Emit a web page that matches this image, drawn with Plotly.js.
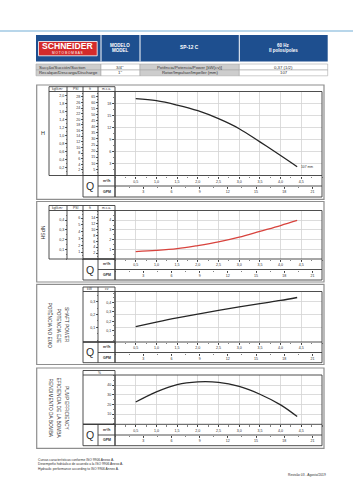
<!DOCTYPE html>
<html><head><meta charset="utf-8">
<script src="https://cdn.plot.ly/plotly-3.0.1.min.js"></script>
<style>html,body{margin:0;padding:0;background:#fff;}#chart{width:353px;height:500px;}</style>
</head><body><div id="chart"></div>
<script>
// ---------- data ----------
const flowM3h = [0.5, 1.0, 1.5, 2.0, 2.5, 3.0, 3.5, 4.0, 4.4];
const headM = [19.2, 18.7, 17.6, 16.2, 14.2, 11.7, 8.4, 5.0, 2.2];
const npshM = [0.77, 0.88, 1.06, 1.38, 1.76, 2.25, 2.85, 3.45, 3.97];
const powerKW = [0.105, 0.140, 0.173, 0.203, 0.232, 0.259, 0.285, 0.310, 0.333];
const efficiencyPct = [22.5, 33.0, 40.5, 43.3, 42.8, 38.5, 30.5, 19.5, 7.5];
const curveLabel = '107 mm';

const m3hTicks = [0.5, 1.0, 1.5, 2.0, 2.5, 3.0, 3.5, 4.0, 4.5];
const gpmTicks = [3, 6, 9, 12, 15, 18, 21];
const headMcaTicks = [3, 6, 9, 12, 15, 18];
const headFtTicks = [5, 10, 15, 20, 25, 30, 35, 40, 45, 50, 55, 60, 65];
const headPsiTicks = [2, 4, 6, 8, 10, 12, 14, 16, 18, 20, 22, 24, 26, 28];
const headKgfTicks = [0.2, 0.4, 0.6, 0.8, 1.0, 1.2, 1.4, 1.6, 1.8, 2.0];
const npshMcaTicks = [1, 2, 3, 4];
const npshFtTicks = [2, 4, 6, 8, 10, 12, 14];
const npshPsiTicks = [1, 2, 3, 4, 5, 6];
const npshKgfTicks = [0.1, 0.2, 0.3, 0.4];
const powerKwTicks = [0.1, 0.2, 0.3];
const powerCvTicks = [0.1, 0.2, 0.3, 0.4];
const effTicks = [10, 20, 30, 40];

// ---------- geometry helpers ----------
const W = 353, H = 500;
const X = v => v / W;
const Y = v => 1 - v / H;
const FONT = 'Liberation Sans, Arial, sans-serif';
const INK = '#2e2e2e';
const GRID = '#d3d3d3';
const FT_PER_M = 3.28084, PSI_PER_M = 1.42233, KGF_PER_M = 0.1, CV_PER_KW = 1.35962, GPM_PER_M3H = 4.40287;
const PL = 115, PR = 322;
const QR = [0, 5];

function ax(extra) {
  return Object.assign({
    showgrid: false, zeroline: false, showline: false, ticks: 'outside', ticklen: 2, tickwidth: 0.8,
    tickcolor: INK, tickfont: {size: 3.6, color: INK, family: FONT}, fixedrange: true, tickmode: 'array'
  }, extra);
}
function minor(d) { return {ticks: 'outside', ticklen: 1.2, tickwidth: 0.6, tickcolor: INK, tickmode: 'linear', tick0: 0, dtick: d, showgrid: false}; }

const panels = [
  {top: 91.5, bot: 175.5, gpm: 186, qb: 197, oT: 85, oB: 199.3, cT: 86.7, cL: 49, divs: [67, 83, 98]},
  {top: 210.5, bot: 259, gpm: 269.5, qb: 280, oT: 201.5, oB: 282, cT: 205.5, cL: 49, divs: [67, 83, 98]},
  {top: 291.5, bot: 342, gpm: 352.5, qb: 362.7, oT: 284.3, oB: 364.5, cT: 287, cL: 83, divs: [98]},
  {top: 375, bot: 424.3, gpm: 435, qb: 445.7, oT: 368, oB: 448.3, cT: 370.5, cL: 83, divs: []}
];
const dom = p => [Y(p.bot), Y(p.top)];
const xdom = [X(PL), X(PR)];

const layout = {
  width: W, height: H, margin: {l: 0, r: 0, t: 0, b: 0},
  paper_bgcolor: '#fff', plot_bgcolor: 'rgba(0,0,0,0)', showlegend: false,
  separators: ',.', font: {family: FONT, color: INK}, shapes: [], annotations: []
};

// x axes (m3/h + GPM) for each panel
const mainY = ['y', 'y5', 'y9', 'y11'];
panels.forEach((p, i) => {
  const xa = 2 * i + 1, xg = 2 * i + 2;
  layout['xaxis' + (xa === 1 ? '' : xa)] = ax({
    domain: xdom, anchor: mainY[i], range: QR, tickvals: m3hTicks, tickformat: '.1f',
    showgrid: true, gridcolor: GRID, gridwidth: 0.8, minor: minor(0.25)
  });
  layout['xaxis' + xg] = ax({
    domain: xdom, overlaying: 'x' + (xa === 1 ? '' : xa), anchor: 'free', position: Y(p.gpm), side: 'bottom',
    range: [QR[0] * GPM_PER_M3H, QR[1] * GPM_PER_M3H], tickvals: gpmTicks, minor: minor(1.5)
  });
});

// y axes
const hR = [0, 21], nR = [0, 5], pR = [-0.015, 0.38], eR = [-0.5, 50.3];
function yMain(p, range, vals, fmt, mnr) {
  return ax({domain: dom(p), range: range, tickvals: vals, tickformat: fmt, showgrid: true, gridcolor: GRID, gridwidth: 0.8, minor: minor(mnr)});
}
function yFree(p, over, pos, range, vals, fmt, mnr) {
  return ax({domain: dom(p), overlaying: over, anchor: 'free', position: X(pos), side: 'left', range: range, tickvals: vals, tickformat: fmt, minor: minor(mnr)});
}
layout.yaxis = Object.assign(yMain(panels[0], hR, headMcaTicks, 'd', 1.5), {anchor: 'x'});
layout.yaxis2 = yFree(panels[0], 'y', 98, hR.map(v => v * FT_PER_M), headFtTicks, 'd', 2.5);
layout.yaxis3 = yFree(panels[0], 'y', 83, hR.map(v => v * PSI_PER_M), headPsiTicks, 'd', 1);
layout.yaxis4 = yFree(panels[0], 'y', 67, hR.map(v => v * KGF_PER_M), headKgfTicks, '.1f', 0.1);
layout.yaxis5 = Object.assign(yMain(panels[1], nR, npshMcaTicks, 'd', 0.5), {anchor: 'x3'});
layout.yaxis6 = yFree(panels[1], 'y5', 98, nR.map(v => v * FT_PER_M), npshFtTicks, 'd', 1);
layout.yaxis7 = yFree(panels[1], 'y5', 83, nR.map(v => v * PSI_PER_M), npshPsiTicks, 'd', 0.5);
layout.yaxis8 = yFree(panels[1], 'y5', 67, nR.map(v => v * KGF_PER_M), npshKgfTicks, '.1f', 0.05);
layout.yaxis9 = Object.assign(yMain(panels[2], pR, powerCvTicks, '.1f', 0.05), {anchor: 'x5'});
layout.yaxis10 = yFree(panels[2], 'y9', 98, pR, powerKwTicks, '.1f', 0.05);
layout.yaxis9.range = pR.map(v => v * CV_PER_KW);
layout.yaxis9.showgrid = false;
layout.yaxis10.showgrid = true; layout.yaxis10.gridcolor = GRID; layout.yaxis10.gridwidth = 0.8;
layout.yaxis11 = Object.assign(yMain(panels[3], eR, effTicks, 'd', 5), {anchor: 'x7'});

// ---------- traces ----------
const dark = '#262626';
const traces = [
  {x: flowM3h, y: headM, xaxis: 'x', yaxis: 'y', mode: 'lines', line: {color: dark, width: 1.3, shape: 'spline'}, hoverinfo: 'skip'},
  {x: flowM3h, y: npshM, xaxis: 'x3', yaxis: 'y5', mode: 'lines', line: {color: '#d8433d', width: 1.3, shape: 'spline'}, hoverinfo: 'skip'},
  {x: flowM3h, y: powerKW, xaxis: 'x5', yaxis: 'y10', mode: 'lines', line: {color: dark, width: 1.3, shape: 'spline'}, hoverinfo: 'skip'},
  {x: flowM3h, y: efficiencyPct, xaxis: 'x7', yaxis: 'y11', mode: 'lines', line: {color: dark, width: 1.3, shape: 'spline'}, hoverinfo: 'skip'}
];
[['x', 'y2'], ['x', 'y3'], ['x', 'y4'], ['x2', 'y'], ['x3', 'y6'], ['x3', 'y7'], ['x3', 'y8'], ['x4', 'y5'],
 ['x5', 'y9'], ['x6', 'y10'], ['x8', 'y11']].forEach(([xa, ya]) => {
  traces.push({x: [null], y: [null], xaxis: xa, yaxis: ya, mode: 'lines', line: {color: 'rgba(0,0,0,0)', width: 0}, hoverinfo: 'skip'});
});

// ---------- shapes ----------
const S = layout.shapes, A = layout.annotations;
function rect(x0, y0, x1, y1, lc, lw, fill) {
  S.push({type: 'rect', xref: 'paper', yref: 'paper', x0: X(x0), x1: X(x1), y0: Y(y1), y1: Y(y0),
    line: {color: lc || 'rgba(0,0,0,0)', width: lw || 0}, fillcolor: fill || 'rgba(0,0,0,0)'});
}
function ln(x0, y0, x1, y1, lc, lw) {
  S.push({type: 'line', xref: 'paper', yref: 'paper', x0: X(x0), x1: X(x1), y0: Y(y0), y1: Y(y1), line: {color: lc, width: lw}});
}
function txt(x, y, t, size, opt) {
  A.push(Object.assign({xref: 'paper', yref: 'paper', x: X(x), y: Y(y), text: t, showarrow: false,
    xanchor: 'center', yanchor: 'middle', font: {size: size, color: INK, family: FONT}, borderpad: 0}, opt || {}));
}

// top rule
ln(0, 31, 353, 31, '#b8d6ea', 2);
// header bar
const BLUE = '#1e4f8f';
rect(36, 35, 327.7, 61.5, null, 0, BLUE);
[101, 140, 239.3].forEach(x => ln(x, 35, x, 61.5, '#ffffff', 1));
rect(38.5, 41.5, 97.2, 55.8, '#ffffff', 0.8, '#d42b2b');
txt(67.8, 46.2, '<b>SCHNEIDER</b>', 8.6, {font: {size: 8.6, color: '#fff', family: FONT}});
txt(67.8, 52.6, 'M O T O B O M B A S', 3.2, {font: {size: 3.2, color: '#fff', family: FONT}});
const wf = s => ({font: {size: s, color: '#fff', family: FONT}});
txt(120.5, 45.2, '<b>MODELO</b>', 4.5, wf(4.5));
txt(120.5, 50.4, '<b>MODEL</b>', 4.5, wf(4.5));
txt(189.6, 47.8, '<b>SP-12 C</b>', 4.8, wf(4.8));
txt(283.5, 45.2, '<b>60 Hz</b>', 4.5, wf(4.5));
txt(283.5, 50.4, '<b>II polos/poles</b>', 4.5, wf(4.5));
// spec rows
const GRAYC = '#cdcdcd', BORD = '#a8a8a8';
[[64, 70], [70, 75.8]].forEach(([a, b]) => {
  rect(36, a, 101, b, BORD, 0.6, GRAYC);
  rect(101, a, 140, b, BORD, 0.6, '#fff');
  rect(140, a, 239.3, b, BORD, 0.6, GRAYC);
  rect(239.3, a, 327.7, b, BORD, 0.6, '#fff');
});
txt(37.5, 67, 'Sucção/Succión/Suction', 4.3, {xanchor: 'left'});
txt(120.5, 67, '3/4"', 4.3);
txt(189.6, 67, 'Potência/Potencia/Power [kW(cv)]', 4.3);
txt(283.5, 67, '0,37 (1/2)', 4.3);
txt(37.5, 72.9, 'Recalque/Descarga/Discharge', 4.3, {xanchor: 'left'});
txt(120.5, 72.9, '1"', 4.3);
txt(189.6, 72.9, 'Rotor/Impulsor/Impeller (mm)', 4.3);
txt(283.5, 72.9, '107', 4.3);

// panels
const FRAME = '#3a3a3a';
const colHeads = [
  [['kgf/cm²', 58], ['PSI', 75], ['ft', 90.5], ['m.c.a.', 106.5]],
  [['kgf/cm²', 58], ['PSI', 75], ['ft', 90.5], ['m.c.a.', 106.5]],
  [['kW', 90.5], ['cv', 106.5]],
  [['%', 99]]
];
panels.forEach((p, i) => {
  rect(36.7, p.oT, 324, p.oB, '#8e8e8e', 1.2);
  rect(p.cL, p.cT, PL, p.bot, FRAME, 0.9);
  ln(p.cL, p.top, PL, p.top, FRAME, 0.9);
  p.divs.forEach(x => ln(x, p.cT, x, p.bot, FRAME, 0.9));
  rect(PL, p.top, PR, p.qb, FRAME, 0.9);
  ln(83, p.bot, PR, p.bot, FRAME, 0.9);
  rect(83, p.bot, PL, p.qb, FRAME, 0.9);
  ln(98, p.bot, 98, p.qb, FRAME, 0.9);
  ln(98, p.gpm, PR, p.gpm, FRAME, 0.9);
  colHeads[i].forEach(([t, x]) => txt(x, (p.cT + p.top) / 2, t, 3.3));
  txt(90.5, (p.bot + p.qb) / 2, 'Q', 10.5);
  txt(106.5, (p.bot + p.gpm) / 2, '<b>m³/h</b>', 3.5);
  txt(106.5, (p.gpm + p.qb) / 2, '<b>GPM</b>', 3.5);
});

// side labels
txt(42.5, 133, 'H', 5.5, {textangle: 0});
txt(42.5, 232, 'NPSH', 5, {textangle: 90});
txt(67, 325, 'SHAFT POWER', 4.8, {textangle: 90});
txt(58.5, 325, 'POTENCIA EJE', 4.8, {textangle: 90});
txt(50.5, 325, 'POTÊNCIA NO EIXO', 4.8, {textangle: 90});
txt(67, 408, 'PUMP EFFICIENCY', 4.8, {textangle: 90});
txt(58.5, 408, 'EFICIENCIA DE LA BOMBA', 4.8, {textangle: 90});
txt(50.5, 408, 'RENDIMENTO DA BOMBA', 4.8, {textangle: 90});

// curve label
A.push({xref: 'x', yref: 'y', x: flowM3h[flowM3h.length - 1], y: headM[headM.length - 1], text: curveLabel,
  showarrow: false, xanchor: 'left', yanchor: 'middle', xshift: 1.5, font: {size: 3.3, color: INK, family: FONT}});

// footer
txt(37, 460.3, 'Curvas características conforme ISO 9906 Anexo A.', 3.3, {xanchor: 'left'});
txt(37, 464.4, 'Desempeño hidráulico de acuerdo a la ISO 9906 Anexo A.', 3.3, {xanchor: 'left'});
txt(37, 468.5, 'Hydraulic performance according to ISO 9906 Annex A.', 3.3, {xanchor: 'left'});
txt(326.7, 475, 'Revisão 03 - Agosto/2019', 3.3, {xanchor: 'right'});

Plotly.newPlot('chart', traces, layout, {staticPlot: true, displayModeBar: false});
</script>
</body></html>
